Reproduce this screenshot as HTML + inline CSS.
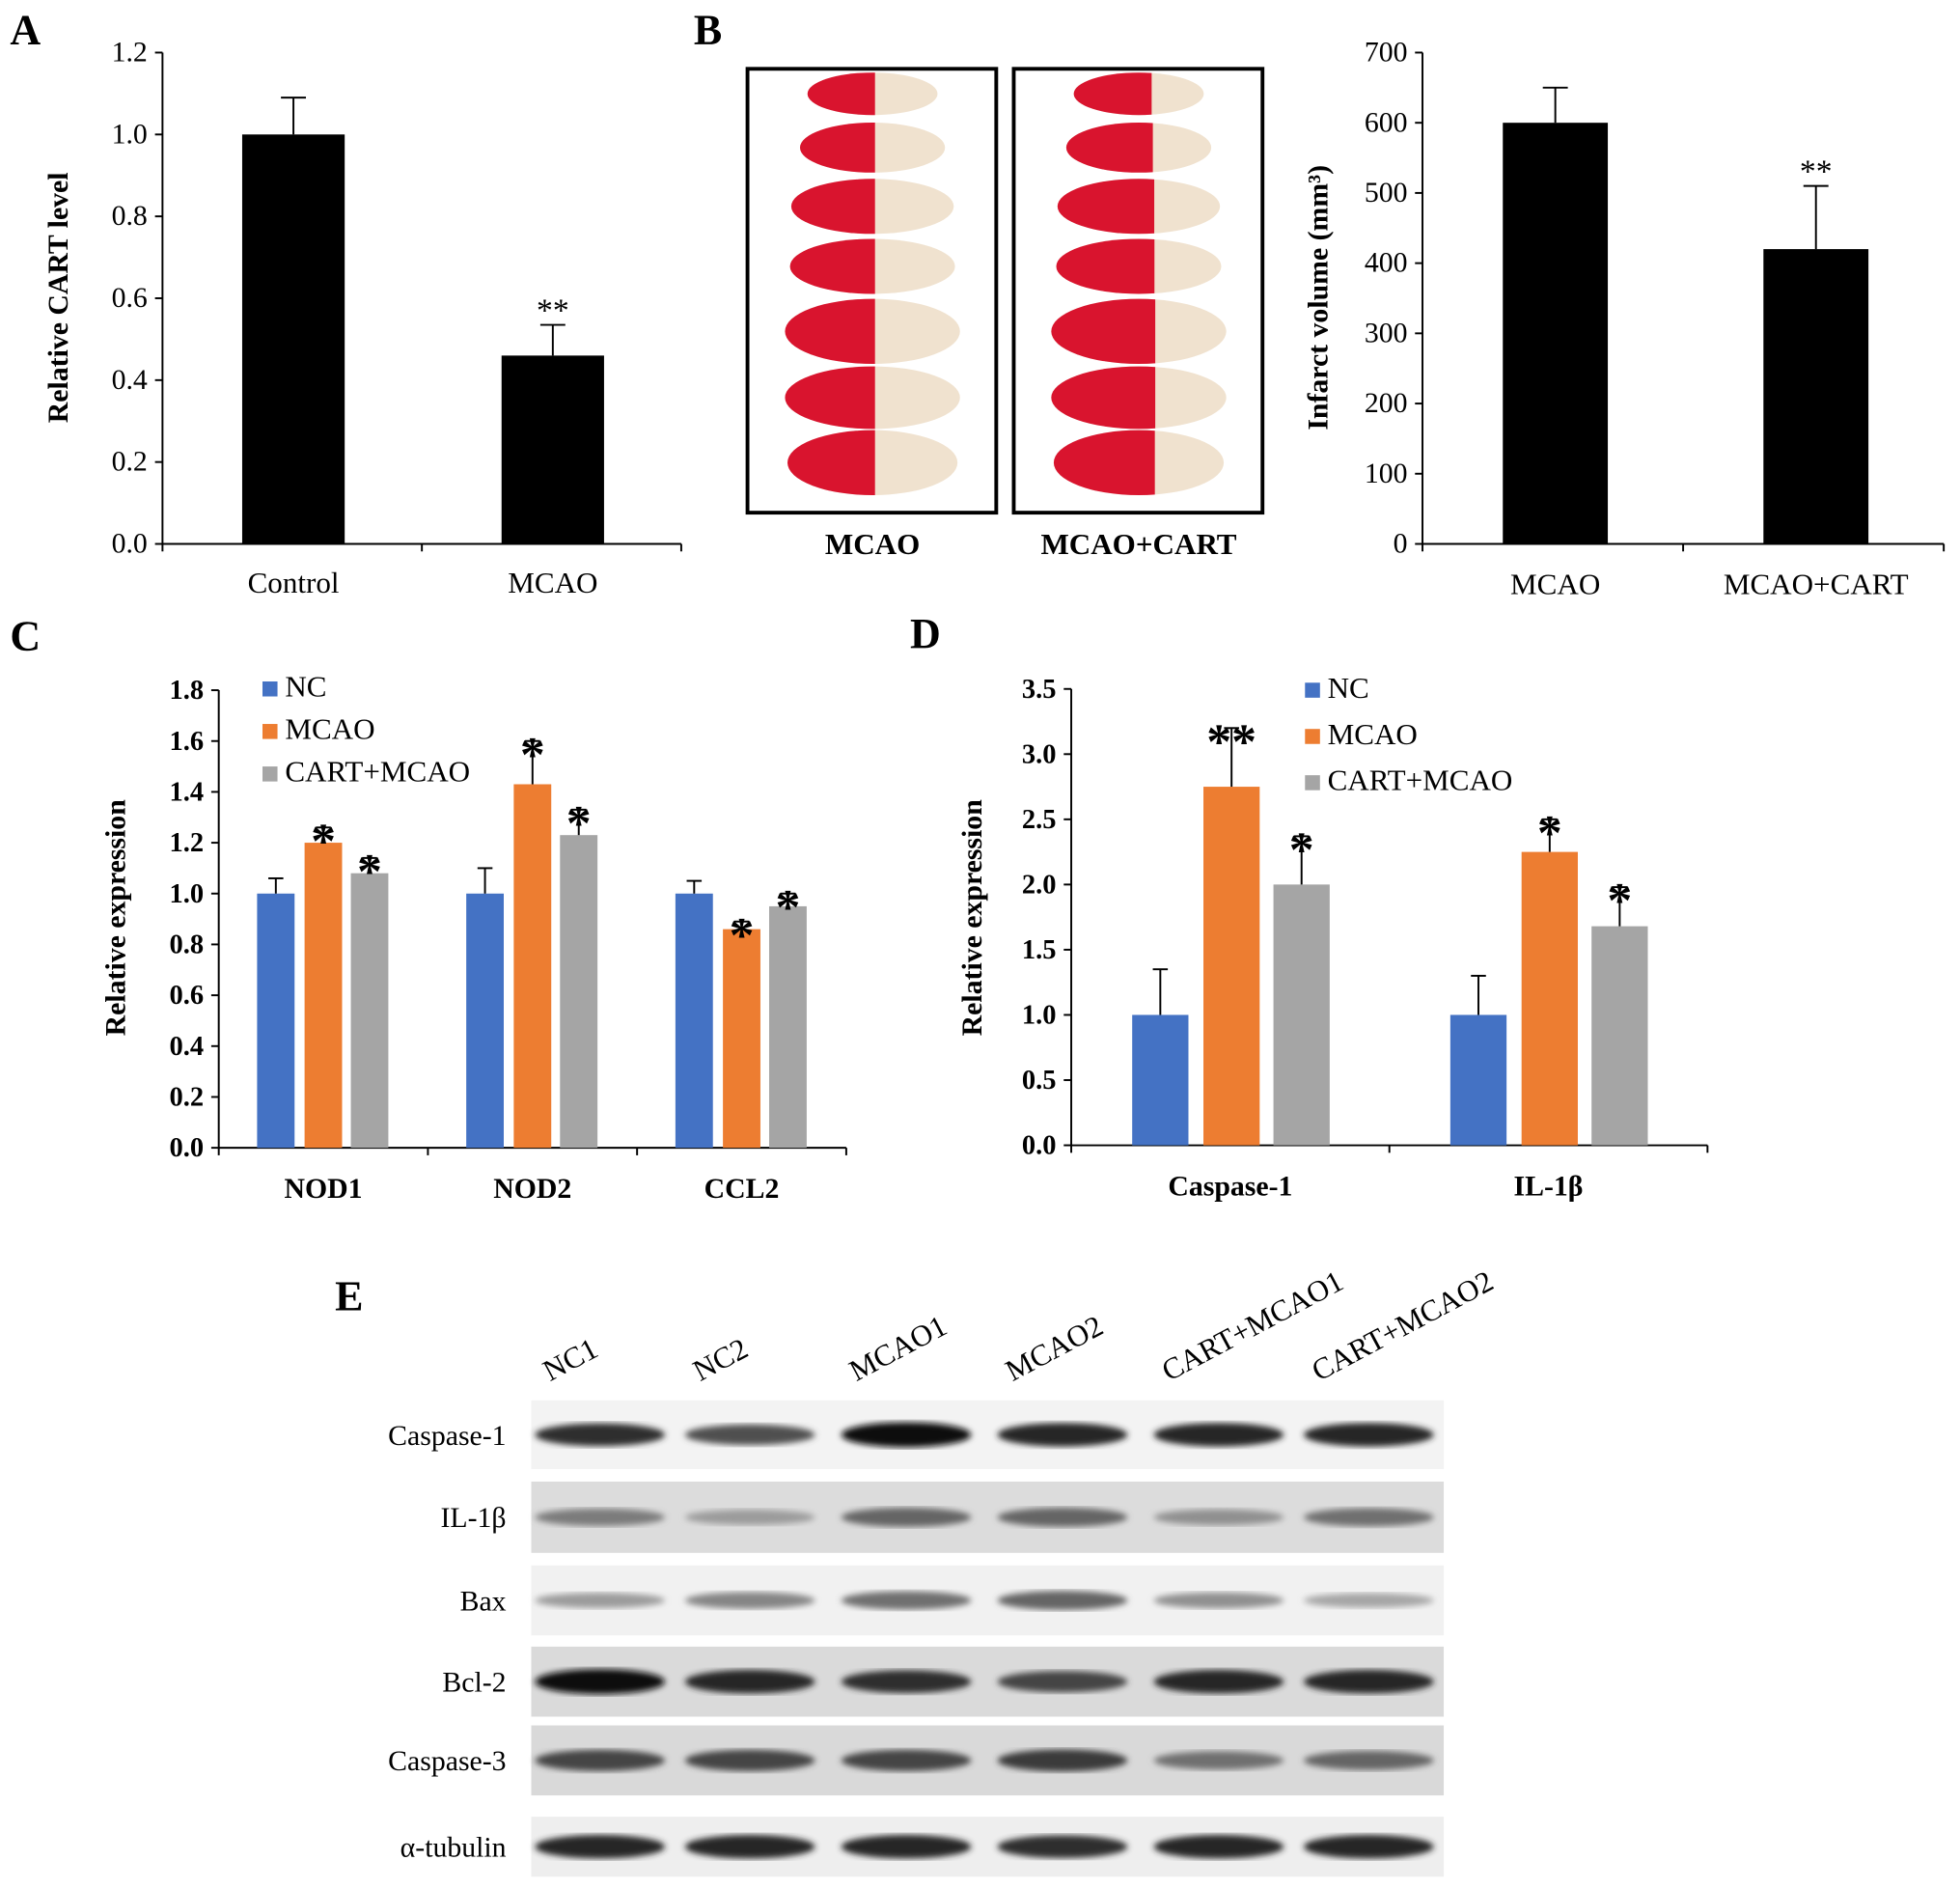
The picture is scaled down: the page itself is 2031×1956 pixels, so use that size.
<!DOCTYPE html>
<html><head><meta charset="utf-8"><style>
html,body{margin:0;padding:0;background:#fff}
svg{display:block;font-family:"Liberation Serif",serif}
</style></head><body>
<svg id="fig" width="2031" height="1956" viewBox="0 0 1568 1510" xmlns="http://www.w3.org/2000/svg">
<defs>
<filter id="blur2"><feGaussianBlur stdDeviation="2.5"/></filter>
<filter id="blur1"><feGaussianBlur stdDeviation="1.2"/></filter>
</defs>
<g font-weight="bold" font-size="34">
<text x="8" y="35">A</text>
<text x="555" y="35">B</text>
<text x="8" y="520">C</text>
<text x="728" y="518">D</text>
<text x="268" y="1048">E</text>
</g>
<g id="root"></g>
</svg>
<script>
// Panel A data
const aCats=["Control","MCAO"];
const aVals=[1.0,0.46];
const aErr=[0.09,0.075];
const aSig=["","**"];
const aTicks=["0.0","0.2","0.4","0.6","0.8","1.0","1.2"];
// Panel B data
const bCats=["MCAO","MCAO+CART"];
const bVals=[600,420];
const bErr=[50,90];
const bSig=["","**"];
const bTicks=["0","100","200","300","400","500","600","700"];
// Panel C data
const cCats=["NOD1","NOD2","CCL2"];
const cSeries=["NC","MCAO","CART+MCAO"];
const cNC=[1.0,1.0,1.0];
const cMCAO=[1.2,1.43,0.86];
const cCART=[1.08,1.23,0.95];
const cErrNC=[0.06,0.1,0.05];
const cErrMCAO=[0.06,0.17,0.03];
const cErrCART=[0.06,0.1,0.05];
const cSigMCAO=["*","*","*"];
const cSigCART=["*","*","*"];
const cTicks=["0.0","0.2","0.4","0.6","0.8","1.0","1.2","1.4","1.6","1.8"];
// Panel D data
const dCats=["Caspase-1","IL-1β"];
const dNC=[1.0,1.0];
const dMCAO=[2.75,2.25];
const dCART=[2.0,1.68];
const dErrNC=[0.35,0.3];
const dErrMCAO=[0.45,0.25];
const dErrCART=[0.37,0.3];
const dSigMCAO=["**","*"];
const dSigCART=["*","*"];
const dTicks=["0.0","0.5","1.0","1.5","2.0","2.5","3.0","3.5"];
// Panel E data
const eLanes=["NC1","NC2","MCAO1","MCAO2","CART+MCAO1","CART+MCAO2"];
const eRows=["Caspase-1","IL-1β","Bax","Bcl-2","Caspase-3","α-tubulin"];
const eIntensity=[[0.85,0.7,1,0.9,0.9,0.9],[0.5,0.35,0.6,0.6,0.4,0.55],[0.35,0.45,0.55,0.6,0.4,0.3],[1,0.9,0.85,0.75,0.9,0.9],[0.75,0.75,0.75,0.8,0.55,0.6],[0.9,0.9,0.9,0.85,0.9,0.9]];

const NS="http://www.w3.org/2000/svg";
const root=document.getElementById('root');
function el(tag,attrs,parent,txt){const e=document.createElementNS(NS,tag);for(const k in attrs)e.setAttribute(k,attrs[k]);if(txt!==undefined)e.textContent=txt;(parent||root).appendChild(e);return e;}
const BLUE="#4472c4",ORANGE="#ed7d31",GRAY="#a5a5a5";

function axes(g,x0,x1,y0,y1,ticks,maxV,ncat,fs,bold){
  el('line',{x1:x0,y1:y0,x2:x0,y2:y1,stroke:'#000','stroke-width':1.5},g);
  el('line',{x1:x0,y1:y0,x2:x1,y2:y0,stroke:'#000','stroke-width':1.5},g);
  ticks.forEach((t,i)=>{const y=y0-(y0-y1)*i/(ticks.length-1);
    el('line',{x1:x0-6,y1:y,x2:x0,y2:y,stroke:'#000','stroke-width':1.5},g);
    const tx=el('text',{x:x0-12,y:y+7,'text-anchor':'end','font-size':fs,'font-weight':bold?'bold':'normal'},g,t);
    });
  for(let i=0;i<=ncat;i++){const x=x0+(x1-x0)*i/ncat;el('line',{x1:x,y1:y0,x2:x,y2:y0+6,stroke:'#000','stroke-width':1.5},g);}
}
function errbar(g,x,yTop,yErr,w){el('line',{x1:x,y1:yTop,x2:x,y2:yErr,stroke:'#000','stroke-width':1.5},g);el('line',{x1:x-w,y1:yErr,x2:x+w,y2:yErr,stroke:'#000','stroke-width':1.5},g);}

// Panel A
(function(){const g=el('g',{});
 const x0=130,x1=545,y0=435,y1=42,maxV=1.2;const Y=v=>y0-(y0-y1)*v/maxV;const bw=(x1-x0)/aCats.length;
 axes(g,x0,x1,y0,y1,aTicks,maxV,aCats.length,23,false);
 aCats.forEach((c,i)=>{const cx=x0+bw*(i+0.5)+1;
  const r=el('rect',{x:cx-41,y:Y(aVals[i]),width:82,height:y0-Y(aVals[i]),fill:'#000'},g);
  errbar(g,cx,Y(aVals[i]),Y(aVals[i]+aErr[i]),10);
  if(aSig[i])el('text',{x:cx,y:Y(aVals[i]+aErr[i])-3,'text-anchor':'middle','font-size':26},g,aSig[i]);
  const t=el('text',{x:cx,y:474,'text-anchor':'middle','font-size':24},g,c);});
 const t=el('text',{transform:'translate(54,238) rotate(-90)','text-anchor':'middle','font-size':23,'font-weight':'bold'},g,'Relative CART level');
})();

// Panel B brain images
(function(){[598,811].forEach((bx,k)=>{const g=el('g',{});
 el('rect',{x:bx,y:55,width:199,height:355,fill:'#fff',stroke:'#000','stroke-width':3},g);
 const ys=[75,118,165,213,265,318,370],rx=[52,58,65,66,70,70,68],ry=[17,20,22,22,26,25,26];
 ys.forEach((y,i)=>{const cx=bx+100;const frac=k?0.58:0.5;
  el('ellipse',{cx:cx,cy:y,rx:rx[i],ry:ry[i],fill:'#f0e2cf'},g);
  const cp='clip'+k+i;const cpe=el('clipPath',{id:cp},g);el('rect',{x:cx-rx[i]-2,y:y-30,width:rx[i]*2*frac+4,height:60},cpe);
  el('ellipse',{cx:cx,cy:y,rx:rx[i],ry:ry[i],fill:'#d9142e','clip-path':'url(#'+cp+')'},g);});
 el('text',{x:bx+100,y:443,'text-anchor':'middle','font-size':24,'font-weight':'bold'},g,k?'MCAO+CART':'MCAO');});})();

// Panel B chart
(function(){const g=el('g',{});
 const x0=1138,x1=1555,y0=435,y1=42,maxV=700;const Y=v=>y0-(y0-y1)*v/maxV;const bw=(x1-x0)/bCats.length;
 axes(g,x0,x1,y0,y1,bTicks,maxV,bCats.length,23,false);
 bCats.forEach((c,i)=>{const cx=x0+bw*(i+0.5)+2;
  const r=el('rect',{x:cx-42,y:Y(bVals[i]),width:84,height:y0-Y(bVals[i]),fill:'#000'},g);
  errbar(g,cx,Y(bVals[i]),Y(bVals[i]+bErr[i]),10);
  if(bSig[i])el('text',{x:cx,y:Y(bVals[i]+bErr[i])-3,'text-anchor':'middle','font-size':26},g,bSig[i]);
  const t=el('text',{x:cx,y:475,'text-anchor':'middle','font-size':24},g,c);});
 const t=el('text',{transform:'translate(1062,238) rotate(-90)','text-anchor':'middle','font-size':23,'font-weight':'bold'},g,'Infarct volume (mm³)');
})();

function groupChart(name,cats,series,errs,sigs,ticks,x0,x1,y0,y1,maxV,bw,offs,titleX,titleY,legY,legX,legStep,legFs,sigFs){
 const g=el('g',{});
 const Y=v=>y0-(y0-y1)*v/maxV;const gw=(x1-x0)/cats.length;const colors=[BLUE,ORANGE,GRAY];
 axes(g,x0,x1,y0,y1,ticks,maxV,cats.length,22,true);
 cats.forEach((c,i)=>{const cx=x0+gw*(i+0.5);
  series.forEach((s,j)=>{const v=s[i],x=cx+offs[j];
   const r=el('rect',{x:x-bw/2,y:Y(v),width:bw,height:y0-Y(v),fill:colors[j]},g);
   errbar(g,x,Y(v),Y(v+errs[j][i]),6);
   if(sigs[j]&&sigs[j][i])el('text',{x:x,y:Y(v+errs[j][i])+sigFs*0.6,'text-anchor':'middle','font-size':sigFs,'font-weight':'bold'},g,sigs[j][i]);});
  const t=el('text',{x:cx,y:y0+40,'text-anchor':'middle','font-size':23,'font-weight':'bold'},g,c);});
 const t=el('text',{transform:`translate(${titleX},${titleY}) rotate(-90)`,'text-anchor':'middle','font-size':23,'font-weight':'bold'},g,'Relative expression');
 cSeries.forEach((s,j)=>{const lg=el('g',{},g);
  el('rect',{x:legX,y:legY+j*legStep-12,width:12,height:12,fill:colors[j]},lg);
  el('text',{x:legX+18,y:legY+j*legStep,'font-size':legFs},lg,s);});
}
groupChart('panel-c-chart',cCats,[cNC,cMCAO,cCART],[cErrNC,cErrMCAO,cErrCART],[null,cSigMCAO,cSigCART],cTicks,175,677,918,552,1.8,30,[-38,0,37],100,734,557,210,34,24,40);
groupChart('panel-d-chart',dCats,[dNC,dMCAO,dCART],[dErrNC,dErrMCAO,dErrCART],[null,dSigMCAO,dSigCART],dTicks,857,1366,916,551,3.5,45,[-56,1,57],785,734,558,1044,37,24,40);

// Panel E blots
(function(){const g=el('g',{});
 const rowY=[1120,1185,1252,1317,1380,1453],rowH=[55,57,56,56,56,48],rowBg=['#f3f3f3','#dcdcdc','#f1f1f1','#dadada','#d9d9d9','#eeeeee'];
 const laneX=[480,600,725,850,975,1095];
 eRows.forEach((r,i)=>{
  el('rect',{x:425,y:rowY[i],width:730,height:rowH[i],fill:rowBg[i]},g);
  const t=el('text',{x:405,y:rowY[i]+rowH[i]/2+8,'text-anchor':'end','font-size':23},g,r);
  eLanes.forEach((l,j)=>{const v=eIntensity[i][j];const c=Math.round(230-215*v);
   const b=el('ellipse',{cx:laneX[j],cy:rowY[i]+rowH[i]/2,rx:52,ry:4+6*v,fill:`rgb(${c},${c},${c})`,filter:'url(#blur2)'},g);
   });});
 eLanes.forEach((l,j)=>{const t=el('text',{transform:`translate(${laneX[j]-40},${1105}) rotate(-28)`,'font-size':24},g,l);});
})();
</script>
</body></html>
